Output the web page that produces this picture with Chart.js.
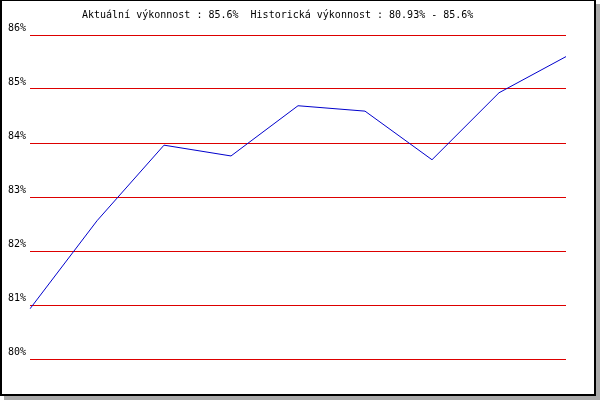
<!DOCTYPE html>
<html>
<head>
<meta charset="utf-8">
<script src="https://cdn.jsdelivr.net/npm/chart.js@4"></script>
<style>
  body { margin: 0; background: #fff; }
  canvas { display: block; }
</style>
</head>
<body>
<canvas id="perfChart" width="600" height="400"></canvas>
<script>
// DATA
const labels = ['1', '2', '3', '4', '5', '6', '7', '8', '9'];
const vykonnost = [80.93, 82.56, 83.96, 83.76, 84.69, 84.59, 83.69, 84.93, 85.6];
const yTicks = [80, 81, 82, 83, 84, 85, 86];
const titleText = 'Aktuální výkonnost : 85.6%  Historická výkonnost : 80.93% - 85.6%';

const FONT = '"DejaVu Sans Mono", "Liberation Mono", monospace';

// frame with shadow + title
const framePlugin = {
  id: 'frame',
  beforeDraw(chart) {
    const c = chart.ctx;
    c.save();
    c.fillStyle = '#aaaaaa';
    c.fillRect(4, 4, 596, 396);
    c.fillStyle = '#ffffff';
    c.fillRect(0, 0, 596, 396);
    c.fillStyle = '#000000';
    c.fillRect(0, 0, 2, 396);
    c.fillRect(0, 0, 596, 1);
    c.fillRect(594, 0, 2, 396);
    c.fillRect(0, 394, 596, 2);
    c.restore();
  },
  afterDraw(chart) {
    const c = chart.ctx;
    c.save();
    c.font = '10px ' + FONT;
    c.fillStyle = '#000';
    c.textBaseline = 'alphabetic';
    c.textAlign = 'left';
    c.fillText(titleText, 82, 18);
    c.restore();
  }
};

const ctx = document.getElementById('perfChart').getContext('2d');
const perfChart = new Chart(ctx, {
  type: 'line',
  data: {
    labels: labels,
    datasets: [{
      data: vykonnost,
      borderColor: '#0000cc',
      borderWidth: 1,
      pointRadius: 0,
      tension: 0,
      fill: false
    }]
  },
  options: {
    responsive: false,
    animation: false,
    devicePixelRatio: 1,
    layout: {
      padding: { left: 0, top: 35, right: 34, bottom: 41 }
    },
    plugins: {
      legend: { display: false },
      tooltip: { enabled: false }
    },
    scales: {
      x: {
        display: false
      },
      y: {
        min: yTicks[0],
        max: yTicks[yTicks.length - 1],
        afterBuildTicks(scale) {
          scale.ticks = yTicks.map(v => ({ value: v }));
        },
        afterFit(scale) {
          scale.width = 30;
        },
        border: { display: false },
        grid: {
          color: '#dd0000',
          lineWidth: 1,
          drawTicks: false
        },
        ticks: {
          padding: 4,
          labelOffset: -7,
          color: '#000',
          font: { family: FONT, size: 10 },
          callback: v => v + '%'
        }
      }
    }
  },
  plugins: [framePlugin]
});
</script>
</body>
</html>
